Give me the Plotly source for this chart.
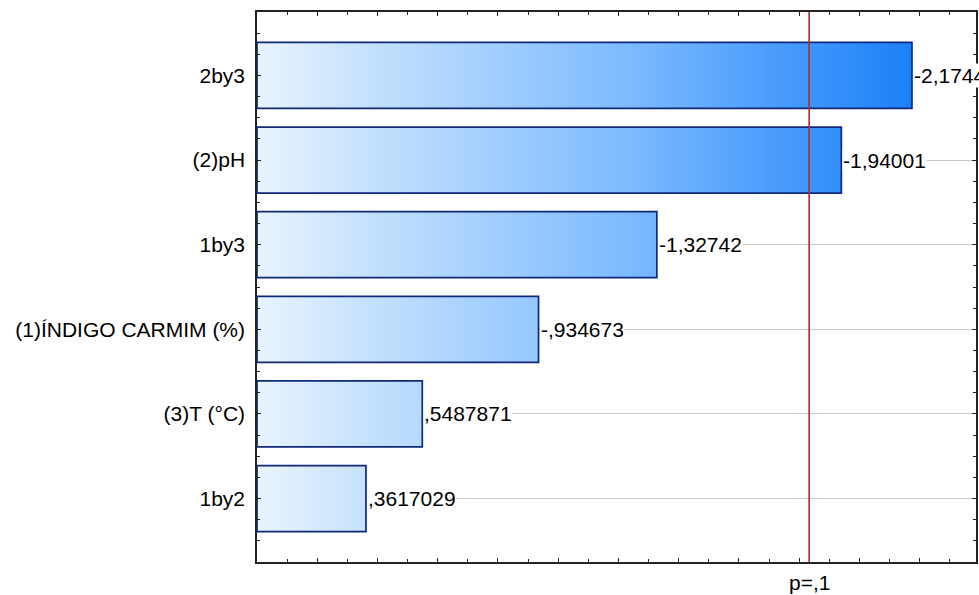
import plotly.graph_objects as go

categories = ["2by3", "(2)pH", "1by3", "(1)ÍNDIGO CARMIM (%)", "(3)T (°C)", "1by2"]
effects = [-2.1744, -1.94001, -1.32742, -0.934673, 0.5487871, 0.3617029]
value_labels = ["-2,1744", "-1,94001", "-1,32742", "-,934673", ",5487871", ",3617029"]
p_value_t = 1.833
p_label = "p=,1"

FONT = "Liberation Sans, Arial, sans-serif"
half = 0.39
gmax = max(abs(v) for v in effects)

fig = go.Figure()
for i, (cat, v) in enumerate(zip(categories, effects)):
    a = abs(v)
    fig.add_trace(go.Scatter(
        x=[0, a, a, 0, 0],
        y=[i - half, i - half, i + half, i + half, i - half],
        mode="lines",
        fill="toself",
        fillgradient=dict(
            type="horizontal",
            start=0,
            stop=gmax,
            colorscale=[[0, "#e9f4fe"], [0.17, "#c4e1fd"], [0.57, "#7cbaff"], [1, "#1a80f8"]],
        ),
        line=dict(color="#10287a", width=1.7),
        hoverinfo="skip",
        showlegend=False,
    ))
    fig.add_annotation(
        x=a, y=i, xref="x", yref="y",
        text=value_labels[i], showarrow=False,
        xanchor="left", yanchor="middle", xshift=1,
        font=dict(family=FONT, size=21, color="black"),
        bgcolor="white", borderpad=0,
    )

fig.add_shape(type="line", x0=p_value_t, x1=p_value_t, xref="x", y0=0, y1=1, yref="paper",
              line=dict(color="#b8282a", width=1.6))
fig.add_annotation(x=p_value_t, y=0, xref="x", yref="paper", yshift=-20,
                   text=p_label, showarrow=False, xanchor="center", yanchor="middle",
                   font=dict(family=FONT, size=21, color="black"))

fig.update_xaxes(
    range=[0, 2.387], dtick=0.2, tick0=0, showticklabels=False,
    ticks="inside", ticklen=4, tickcolor="#222", tickwidth=1,
    minor=dict(dtick=0.1, ticks="inside", ticklen=3, tickcolor="#222", showgrid=False),
    showline=True, linecolor="#222", linewidth=1.5, mirror="ticks",
    showgrid=False, zeroline=False,
)
fig.update_yaxes(
    range=[5.75, -0.75], tickvals=list(range(len(categories))), ticktext=categories,
    ticks="inside", ticklen=4, tickcolor="#222", tickwidth=1,
    minor=dict(dtick=0.25, tick0=0, ticks="inside", ticklen=3, tickcolor="#222", showgrid=False),
    showline=True, linecolor="#222", linewidth=1.5, mirror="ticks",
    showgrid=True, gridcolor="#c8c8c8", gridwidth=1, zeroline=False,
    tickfont=dict(family=FONT, size=21, color="black"),
    ticklabelstandoff=6,
)
fig.update_layout(
    width=979, height=595,
    margin=dict(l=257, r=1, t=12, b=33),
    plot_bgcolor="white", paper_bgcolor="white",
)
fig.write_html("out.html")
